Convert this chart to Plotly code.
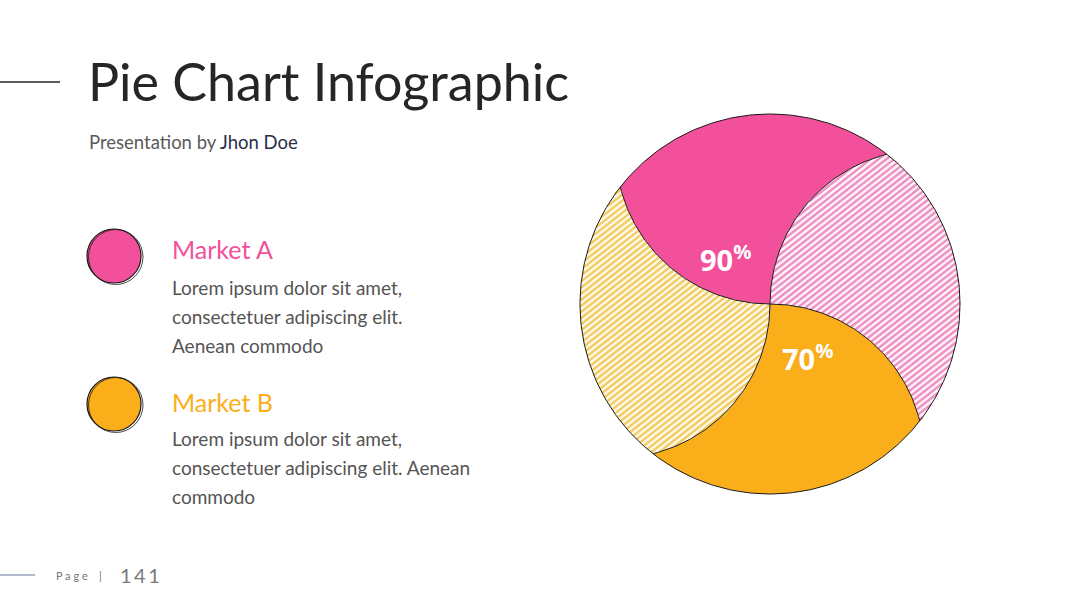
import numpy as np
import plotly.graph_objects as go

W, H = 1080, 608

# ---------------- data ----------------
markets = ["Market A", "Market B"]
values = [90, 70]
solid_colors = ["#F2509A", "#F9AE1A"]
hatch_colors = ["#EE92C4", "#F4CC66"]
hatch_bg = ["#FEF2F8", "#FFF9E8"]
desc_lines = [
    ["Lorem ipsum dolor sit amet,", "consectetuer adipiscing elit.", "Aenean commodo"],
    ["Lorem ipsum dolor sit amet,", "consectetuer adipiscing elit. Aenean", "commodo"],
]
title = "Pie Chart Infographic"
subtitle_a = "Presentation by "
subtitle_b = "Jhon Doe"
page_no = "141"

# ---------------- geometry of the swirl pie ----------------
CX, CY, R = 770.0, 304.0, 190.0
TANGENTS = [180.0, 90.0, 0.0, -90.0]   # tangent direction of each swirl arc at centre
RIM_OFFSET = -38.0                      # where each arc meets the rim, relative to tangent


def swirl_arc(phi_deg, n=90):
    phi = np.radians(phi_deg)
    u = np.array([np.cos(phi), np.sin(phi)])
    th = np.radians(phi_deg + RIM_OFFSET)
    P = R * np.array([np.cos(th), np.sin(th)])
    nrm = np.array([-u[1], u[0]])
    if P @ nrm < 0:
        nrm = -nrm
    k = (P @ P) / (2 * (P @ nrm))
    O = k * nrm
    b0 = np.arctan2(-nrm[1], -nrm[0])
    b1 = np.arctan2(P[1] - O[1], P[0] - O[0])
    s = 1.0 if np.array([-np.sin(b0), np.cos(b0)]) @ u > 0 else -1.0
    delta = (s * (b1 - b0)) % (2 * np.pi)
    b = b0 + s * np.linspace(0, delta, n)
    return np.column_stack([O[0] + k * np.cos(b), O[1] + k * np.sin(b)])


def rim(th0, th1, n=120):
    t = np.radians(np.linspace(th0, th1, n))
    return np.column_stack([R * np.cos(t), R * np.sin(t)])


def to_screen(pts):
    return np.column_stack([CX + pts[:, 0], CY - pts[:, 1]])


arcs = [swirl_arc(p) for p in TANGENTS]
rims = [p + RIM_OFFSET for p in TANGENTS]


def region(i_start, i_end):
    a = arcs[i_start]
    b = arcs[i_end]
    th0 = rims[i_start]
    th1 = rims[i_end]
    while th1 < th0:
        th1 += 360
    pts = np.vstack([a, rim(th0, th1), b[::-1]])
    return to_screen(pts)


regions = {
    "A_solid": region(1, 0),
    "A_hatch": region(2, 1),
    "B_solid": region(3, 2),
    "B_hatch": region(0, 3),
}


def hatch_segments(poly, angle_deg=38.0, spacing=4.8):
    a = np.radians(angle_deg)
    d = np.array([np.cos(a), -np.sin(a)])
    nv = np.array([np.sin(a), np.cos(a)])
    proj = poly @ nv
    A = poly
    B = np.roll(poly, -1, axis=0)
    pa = A @ nv
    pb = B @ nv
    xs, ys = [], []
    for c in np.arange(proj.min() + spacing / 2, proj.max(), spacing):
        denom = pb - pa
        with np.errstate(divide="ignore", invalid="ignore"):
            s = (c - pa) / denom
        ok = (denom != 0) & (s >= 0) & (s < 1)
        if not ok.any():
            continue
        pts = A[ok] + s[ok, None] * (B[ok] - A[ok])
        t = pts @ d
        order = np.argsort(t)
        pts = pts[order]
        for j in range(0, len(pts) - 1, 2):
            xs += [pts[j, 0], pts[j + 1, 0], None]
            ys += [pts[j, 1], pts[j + 1, 1], None]
    return xs, ys


fig = go.Figure()

# fills
fill_spec = [
    ("A_solid", solid_colors[0]),
    ("A_hatch", hatch_bg[0]),
    ("B_solid", solid_colors[1]),
    ("B_hatch", hatch_bg[1]),
]
for key, col in fill_spec:
    p = regions[key]
    fig.add_trace(go.Scatter(x=p[:, 0], y=p[:, 1], mode="lines", fill="toself",
                             fillcolor=col, line=dict(width=0, color=col),
                             hoverinfo="skip"))

# hatching
for key, col in [("A_hatch", hatch_colors[0]), ("B_hatch", hatch_colors[1])]:
    hx, hy = hatch_segments(regions[key])
    fig.add_trace(go.Scatter(x=hx, y=hy, mode="lines",
                             line=dict(width=2.4, color=col), hoverinfo="skip"))

# outlines
for a in arcs:
    p = to_screen(a)
    fig.add_trace(go.Scatter(x=p[:, 0], y=p[:, 1], mode="lines",
                             line=dict(width=1, color="#1a1a1a"), hoverinfo="skip"))
circ = to_screen(rim(0, 360, 360))
fig.add_trace(go.Scatter(x=circ[:, 0], y=circ[:, 1], mode="lines",
                         line=dict(width=1, color="#1a1a1a"), hoverinfo="skip"))

annotations = []
shapes = []

# value labels inside the solid parts
label_polar = [(64, 134), (65, -55)]
for v, (rr, ang) in zip(values, label_polar):
    lx = CX + rr * np.cos(np.radians(ang))
    ly = CY - rr * np.sin(np.radians(ang))
    annotations.append(dict(x=lx, y=ly, xref="x", yref="y", showarrow=False,
                            text=f"<b>{v}<sup>%</sup></b>",
                            font=dict(family="Open Sans", size=29, color="white"),
                            xanchor="center", yanchor="middle"))

# title block
annotations.append(dict(x=86, y=81, xref="x", yref="y", showarrow=False, text=title,
                        font=dict(family="Lato", size=52, color="#262626"),
                        xanchor="left", yanchor="middle"))
annotations.append(dict(x=87, y=142, xref="x", yref="y", showarrow=False,
                        text=f"<span style='color:#5a5a5a'>{subtitle_a}</span>"
                             f"<span style='color:#2b2d4a'>{subtitle_b}</span>",
                        font=dict(family="Lato", size=18.5, color="#5a5a5a"),
                        xanchor="left", yanchor="middle"))
shapes.append(dict(type="line", x0=0, x1=60, y0=82, y1=82, xref="x", yref="y",
                   line=dict(color="#262626", width=1.5)))

# legend blocks
legend_y = [256, 404]
name_y = [249, 402]
body_y = [287, 438]
for name, col, lines, y0, ny, by in zip(markets, solid_colors, desc_lines,
                                         legend_y, name_y, body_y):
    r = 27
    shapes.append(dict(type="circle", xref="x", yref="y",
                       x0=114 - r, x1=114 + r, y0=y0 - r, y1=y0 + r,
                       fillcolor=col, line=dict(color="#1a1a1a", width=1.2)))
    shapes.append(dict(type="circle", xref="x", yref="y",
                       x0=114 - r + 1.5, x1=114 + r + 2, y0=y0 - r + 0.5, y1=y0 + r + 1.5,
                       line=dict(color="#1a1a1a", width=0.8)))
    annotations.append(dict(x=170, y=ny, xref="x", yref="y", showarrow=False,
                            text=name, font=dict(family="Lato", size=25, color=col),
                            xanchor="left", yanchor="middle"))
    for j, ln in enumerate(lines):
        annotations.append(dict(x=170, y=by + 29 * j, xref="x", yref="y",
                                showarrow=False, text=ln,
                                font=dict(family="Lato", size=19, color="#555555"),
                                xanchor="left", yanchor="middle"))

# footer
shapes.append(dict(type="line", x0=0, x1=35, y0=575, y1=575, xref="x", yref="y",
                   line=dict(color="#b3bccd", width=2)))
annotations.append(dict(x=54, y=575, xref="x", yref="y", showarrow=False,
                        text="P a g e    |", font=dict(family="Lato", size=11, color="#777777"),
                        xanchor="left", yanchor="middle"))
annotations.append(dict(x=118, y=575, xref="x", yref="y", showarrow=False,
                        text="\u2009".join(page_no),
                        font=dict(family="Lato", size=20, color="#7a7a7a"),
                        xanchor="left", yanchor="middle"))

fig.update_layout(
    width=W, height=H, margin=dict(l=0, r=0, t=0, b=0),
    paper_bgcolor="white", plot_bgcolor="white", showlegend=False,
    xaxis=dict(range=[0, W], visible=False, fixedrange=True),
    yaxis=dict(range=[H, 0], visible=False, fixedrange=True),
    annotations=annotations, shapes=shapes, hovermode=False,
)

fig.write_html("out.html", config={"displayModeBar": False},
               post_script="document.body.style.margin='0px';")
